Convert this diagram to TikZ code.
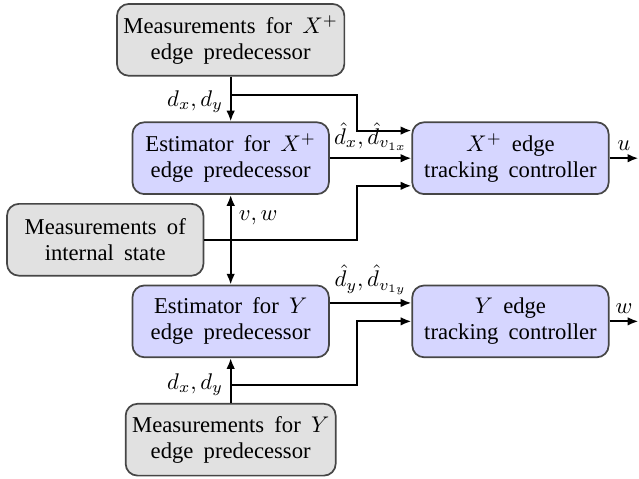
\documentclass[tikz,border=0pt]{standalone}
\usepackage{fix-cm}
\usepackage{fontspec}
\setmainfont{Liberation Serif}
\usepackage{tikz}
\usetikzlibrary{arrows.meta, positioning}
\usepackage{xcolor}
\definecolor{measbg}{RGB}{225,225,225}
\definecolor{procbg}{RGB}{214,214,255}
\definecolor{boxbd}{RGB}{70,70,70}
\newcommand{\diagfont}{\fontsize{10.5}{12}\selectfont\setlength{\spaceskip}{0.45em}}

\begin{document}
\begin{tikzpicture}[
    font = \diagfont,
    measbox/.style = {rectangle, rounded corners=5.5pt, minimum width=3.2cm,
                      minimum height=1.17cm, align=center, inner sep=3pt,
                      fill=measbg, draw=boxbd, line width=0.8pt},
    procbox/.style = {rectangle, rounded corners=5.5pt, minimum width=3.2cm,
                      minimum height=1.17cm, align=center, inner sep=3pt,
                      fill=procbg, draw=boxbd, line width=0.8pt},
    arrow/.style   = {-{Latex[length=5pt,width=4pt]}, line width=0.9pt},
]

% ── Estimators and controllers ──────────────────────────────────
\node[procbox] (estX) {Estimator for $X^+$\\edge predecessor};
\node[procbox, right=1.33cm of estX] (ctrlX) {$X^+$ edge\\tracking controller};
\node[procbox, below=1.46cm of estX] (estY) {Estimator for $Y$\\edge predecessor};
\node[procbox, right=1.33cm of estY] (ctrlY) {$Y$ edge\\tracking controller};

% ── Measurement boxes ───────────────────────────────────────────
\node[measbox, above=0.73cm of estX] (measX) {Measurements for $X^+$\\edge predecessor};
\node[measbox, below=0.73cm of estY] (measY) {Measurements for $Y$\\edge predecessor};
\path (estX) -- (estY) coordinate[midway] (mid);
\node[measbox, left=0.43cm of mid] (measI) {Measurements of\\internal state};

% ── Helper coordinates ──────────────────────────────────────────
\coordinate[below=0.3cm of measX] (brX);
\coordinate[above=0.3cm of measY] (brY);
\coordinate[right=0.45cm of estX] (jX);
\coordinate[right=0.45cm of estY] (jY);
\coordinate (inX1) at ([yshift=0.45cm]ctrlX.west);
\coordinate (inX3) at ([yshift=-0.45cm]ctrlX.west);
\coordinate[right=0.47cm of ctrlX] (outX);
\coordinate[right=0.47cm of ctrlY] (outY);

% ── Connectors ──────────────────────────────────────────────────
\draw[arrow] (measX) -- (estX);
\node[left, yshift=-0.11cm] at (brX) {$d_x, d_y$};
\draw[arrow] (brX) -- (brX -| jX) |- (inX1);
\draw[arrow] (estX) -- node[above] {$\hat{d}_x, \hat{d}_{v_{1x}}$} (ctrlX);
\draw[arrow] (measI) -- (measI -| jX) |- (inX3);
\draw[{Latex[length=5pt,width=4pt]}-{Latex[length=5pt,width=4pt]}, line width=0.9pt]
    (estX) -- node[pos=0.25, right] {$v, w$} (estY);
\draw[arrow] ([yshift=0.3cm]estY.east) -- node[above] {$\hat{d}_y, \hat{d}_{v_{1y}}$}
    ([yshift=0.3cm]ctrlY.west);
\draw[arrow] (measY) -- (estY);
\node[left] at (brY) {$d_x, d_y$};
\draw[arrow] (brY) -- (brY -| jY) |- (ctrlY);
\draw[arrow] (ctrlX) -- node[above] {$u$} (outX);
\draw[arrow] (ctrlY) -- node[above] {$w$} (outY);

% ── Bounding box ────────────────────────────────────────────────
\coordinate (bbtl) at (measI.west |- measX.north);
\coordinate (bbbr) at (outX |- measY.south);
\pgfresetboundingbox
\path[use as bounding box] ([shift={(-0.1,0.05)}]bbtl) rectangle ([shift={(0.01,-0.03)}]bbbr);

\end{tikzpicture}
\end{document}
